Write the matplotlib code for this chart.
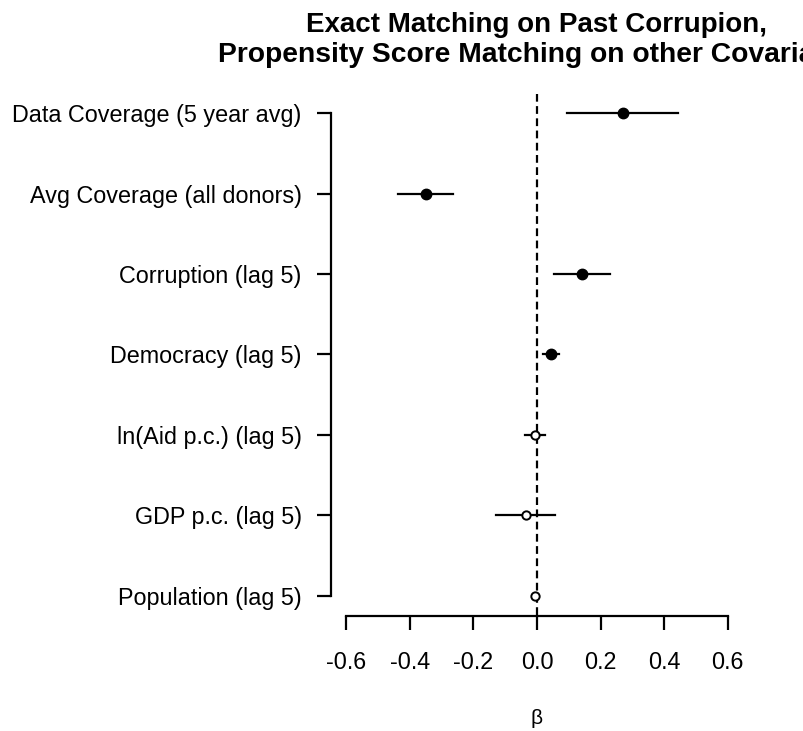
import matplotlib.pyplot as plt
import numpy as np

labels = ['Data Coverage (5 year avg)', 'Avg Coverage (all donors)', 'Corruption (lag 5)',
          'Democracy (lag 5)', 'ln(Aid p.c.) (lag 5)', 'GDP p.c. (lag 5)', 'Population (lag 5)']
est = [0.269, -0.349, 0.141, 0.043, -0.005, -0.036, -0.005]
lo = [0.095, -0.437, 0.053, 0.018, -0.039, -0.130, -0.010]
hi = [0.444, -0.265, 0.229, 0.070, 0.026, 0.058, 0.001]
xticks = [-0.6, -0.4, -0.2, 0.0, 0.2, 0.4, 0.6]

plt.rcParams['font.family'] = ['Liberation Sans', 'DejaVu Sans']

fig = plt.figure(figsize=(8.04, 7.31), dpi=100)
ax = fig.add_axes([331/804, 1 - 615/731, 412/804, 521/731])

y = np.arange(len(labels))[::-1] + 1
ax.axvline(0, color='black', lw=1.6, ls=(0, (3.5, 2)))
for i in range(len(labels)):
    ax.plot([lo[i], hi[i]], [y[i], y[i]], color='black', lw=1.6)
    sig = lo[i] > 0 or hi[i] < 0
    if sig:
        ax.plot(est[i], y[i], 'o', color='black', ms=7.5)
    else:
        ax.plot(est[i], y[i], 'o', mfc='white', mec='black', mew=1.4, ms=6)

ax.set_xlim(-0.648, 0.648)
ax.set_ylim(1 - 0.24, 7 + 0.24)
ax.spines['top'].set_visible(False)
ax.spines['right'].set_visible(False)
ax.spines['left'].set_bounds(1, 7)
ax.spines['bottom'].set_bounds(-0.6, 0.6)
ax.spines['bottom'].set_position(('outward', 1))
for s in ['left', 'bottom']:
    ax.spines[s].set_linewidth(1.6)
ax.set_yticks(y)
ax.set_yticklabels(labels, fontsize=16.8)
ax.set_xticks(xticks)
ax.set_xticklabels(['%.1f' % v for v in xticks], fontsize=16.8)
ax.tick_params(axis='both', length=10, width=1.6)
ax.tick_params(axis='y', pad=11)
ax.tick_params(axis='x', pad=15)
ax.set_xlabel('β', fontsize=15, labelpad=25)

# title is centred over the plot region and runs off the right edge, as in the original
fig.text(537/804, 1 - 32/731, 'Exact Matching on Past Corrupion,', ha='center', va='baseline',
         fontsize=20, fontweight='bold')
fig.text(537/804, 1 - 62/731, 'Propensity Score Matching on other Covariates', ha='center', va='baseline',
         fontsize=20.3, fontweight='bold')

fig.savefig('out.png', dpi=100)
